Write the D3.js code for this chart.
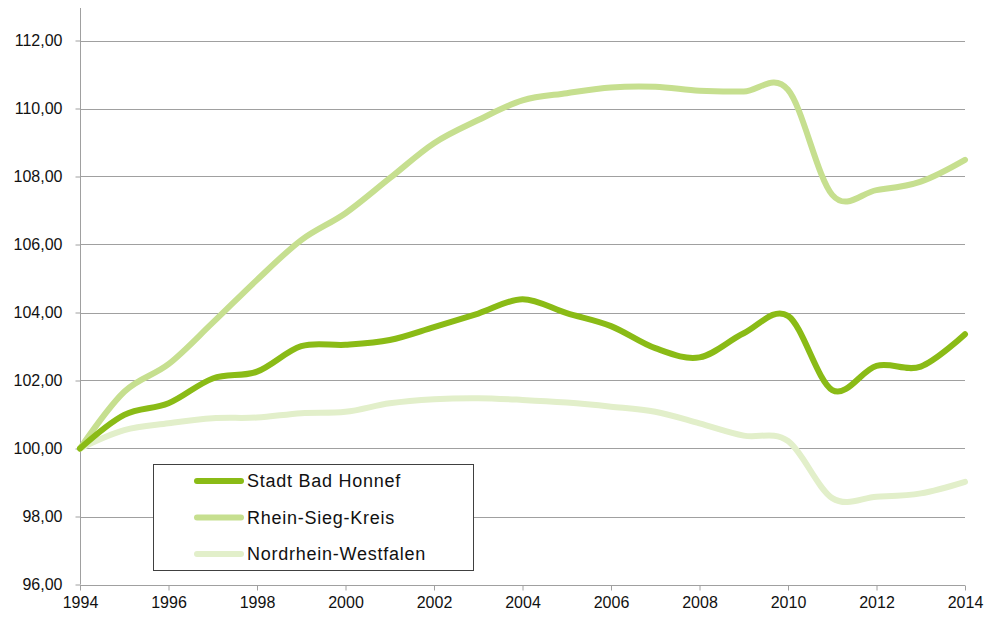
<!DOCTYPE html>
<html>
<head>
<meta charset="utf-8">
<script src="https://cdn.jsdelivr.net/npm/d3@7"></script>
<style>
  body { margin: 0; background: #fff; }
  text { font-family: "Liberation Sans", Arial, sans-serif; fill: #111; }
</style>
</head>
<body>
<script>
var years = [1994, 1995, 1996, 1997, 1998, 1999, 2000, 2001, 2002, 2003, 2004,
             2005, 2006, 2007, 2008, 2009, 2010, 2011, 2012, 2013, 2014];
var badHonnef = [100.00, 100.99, 101.33, 102.06, 102.26, 103.01, 103.05, 103.19, 103.57, 103.97, 104.39,
                 103.98, 103.60, 102.95, 102.68, 103.39, 103.90, 101.72, 102.43, 102.41, 103.36];
var rheinSieg = [100.00, 101.67, 102.48, 103.70, 104.96, 106.13, 106.92, 107.95, 108.98, 109.66, 110.24,
                 110.45, 110.62, 110.64, 110.52, 110.50, 110.55, 107.46, 107.60, 107.85, 108.49];
var nrw = [100.00, 100.54, 100.74, 100.89, 100.91, 101.04, 101.08, 101.33, 101.45, 101.48, 101.43,
           101.35, 101.23, 101.08, 100.74, 100.38, 100.22, 98.54, 98.58, 98.68, 99.02];
var seriesNames = ["Stadt Bad Honnef", "Rhein-Sieg-Kreis", "Nordrhein-Westfalen"];
var seriesColors = ["#8abb16", "#c6df8f", "#e2efca"];
var yTicks = [96, 98, 100, 102, 104, 106, 108, 110, 112];
var xTicks = [1994, 1996, 1998, 2000, 2002, 2004, 2006, 2008, 2010, 2012, 2014];

var series = [badHonnef, rheinSieg, nrw];

var width = 992, height = 635;
var svg = d3.select("body").append("svg")
    .attr("width", width)
    .attr("height", height);

var x = d3.scaleLinear().domain([1994, 2014]).range([80, 965]);
var y = d3.scaleLinear().domain([96, 113]).range([584.5, 6.5]);

// gridlines
svg.append("g")
    .selectAll("line")
    .data(yTicks.slice(1))
    .enter()
    .append("line")
    .attr("x1", 80)
    .attr("x2", 965)
    .attr("y1", function(d) { return Math.round(y(d)) + 0.5; })
    .attr("y2", function(d) { return Math.round(y(d)) + 0.5; })
    .attr("stroke", "#a0a0a0")
    .attr("stroke-width", 1);

// y axis
var yAxis = svg.append("g")
    .attr("transform", "translate(80.5,0)")
    .call(d3.axisLeft(y).tickValues(yTicks).tickSize(5).tickPadding(13)
        .tickFormat(function(d) { return d3.format(".2f")(d).replace(".", ","); }));
yAxis.select(".domain").attr("stroke", "#a0a0a0").attr("d", "M0,8V" + y(96));
yAxis.selectAll(".tick line").attr("stroke", "#a0a0a0");
yAxis.selectAll(".tick text").style("font-size", "16px").attr("fill", "#111");

// x axis
var xAxis = svg.append("g")
    .attr("transform", "translate(0," + (Math.round(y(96)) + 0.5) + ")")
    .call(d3.axisBottom(x).tickValues(xTicks).tickSize(5).tickPadding(6).tickFormat(d3.format("d")));
xAxis.select(".domain").attr("stroke", "#a0a0a0").attr("d", "M80,0H965");
xAxis.selectAll(".tick line").attr("stroke", "#a0a0a0");
xAxis.selectAll(".tick text").style("font-size", "16px").attr("fill", "#111");

var line = d3.line()
    .x(function(d, i) { return x(years[i]); })
    .y(function(d) { return y(d); })
    .curve(d3.curveCatmullRom.alpha(0));

// draw lightest first so dark line is on top
for (var s = series.length - 1; s >= 0; s--) {
    svg.append("path")
        .datum(series[s])
        .attr("fill", "none")
        .attr("stroke", seriesColors[s])
        .attr("stroke-width", 6)
        .attr("stroke-linejoin", "round")
        .attr("stroke-linecap", "round")
        .attr("d", line);
}

// legend
var legend = svg.append("g");
legend.append("rect")
    .attr("x", 153.5)
    .attr("y", 464.5)
    .attr("width", 320)
    .attr("height", 106)
    .attr("fill", "#fff")
    .attr("stroke", "#404040")
    .attr("stroke-width", 1);
seriesNames.forEach(function(name, i) {
    var cy = 481 + i * 36.5;
    legend.append("line")
        .attr("x1", 197).attr("x2", 241)
        .attr("y1", cy).attr("y2", cy)
        .attr("stroke", seriesColors[i])
        .attr("stroke-width", 6)
        .attr("stroke-linecap", "round");
    legend.append("text")
        .attr("x", 247)
        .attr("y", cy)
        .attr("dy", "0.36em")
        .style("font-size", "18px")
        .style("letter-spacing", "0.75px")
        .text(name);
});
</script>
</body>
</html>
